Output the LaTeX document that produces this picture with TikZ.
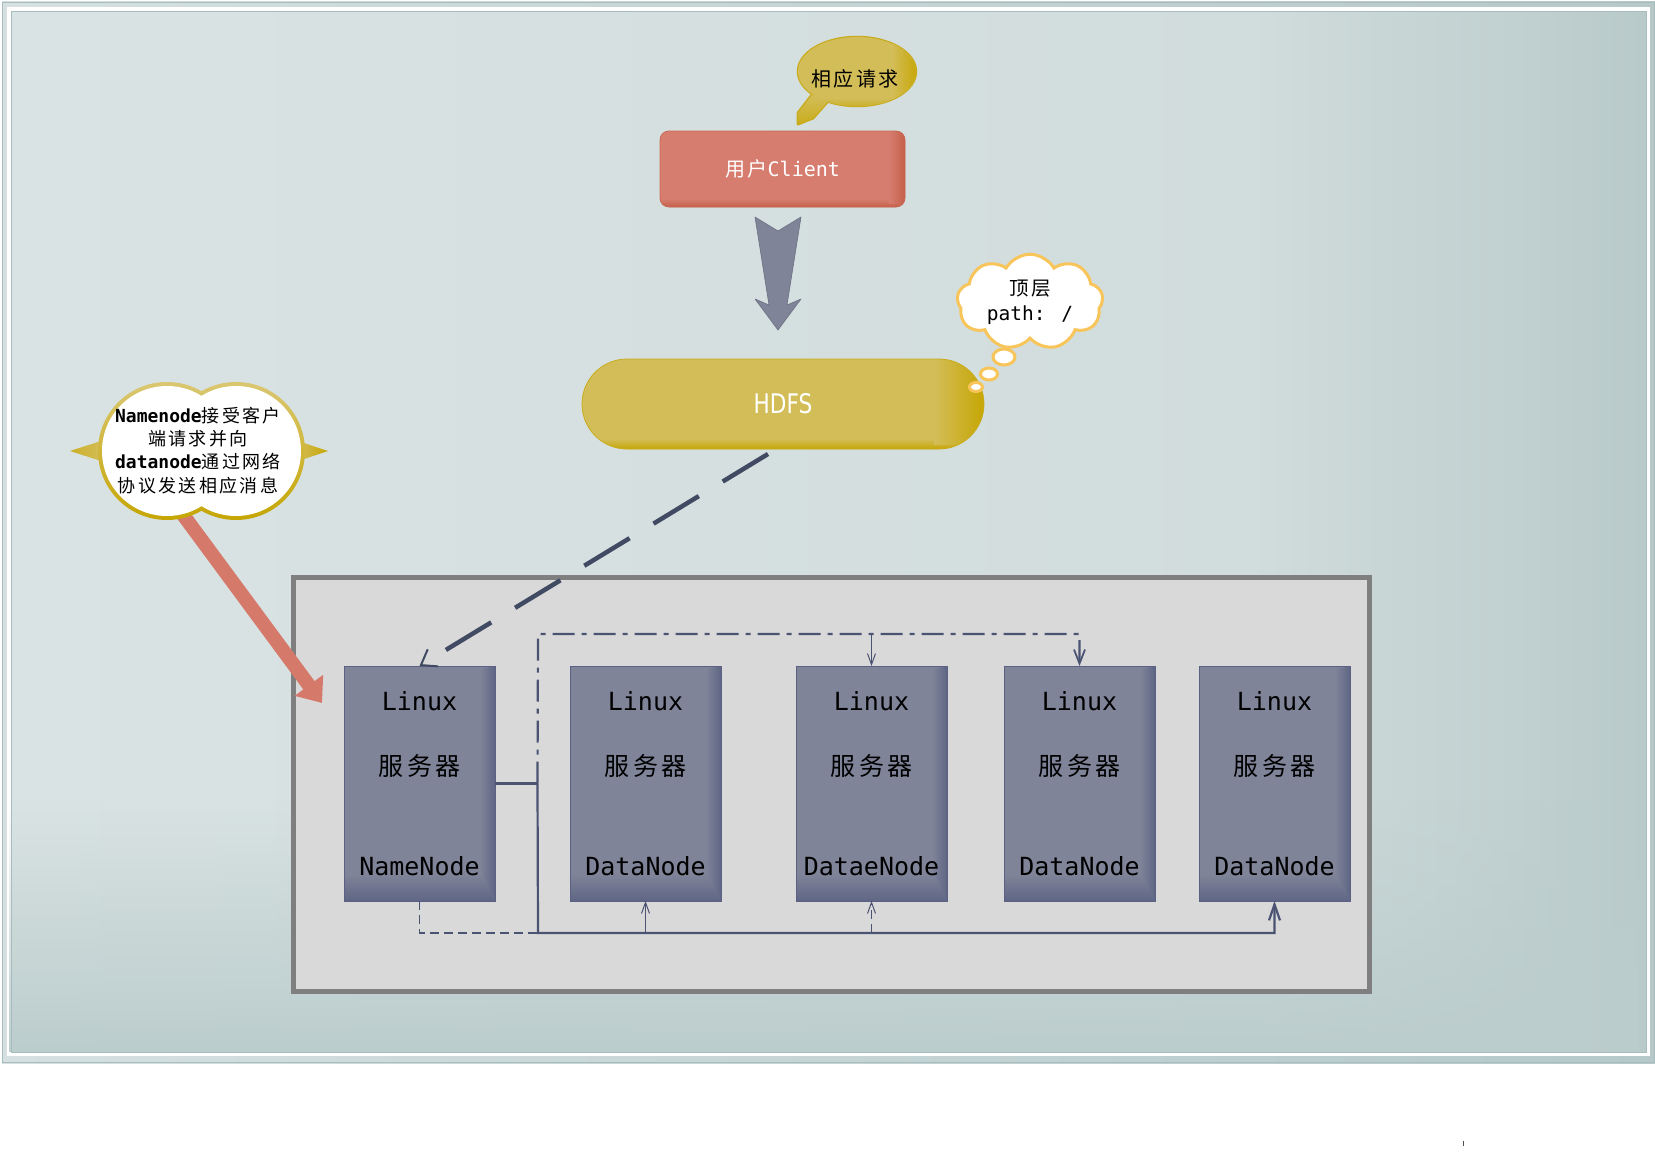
\documentclass[tikz,border=0pt]{standalone}
\usepackage{fontspec}
\usetikzlibrary{arrows.meta,calc,shapes.symbols,shapes.geometric,fadings}
\newfontfamily\cjk{Noto Sans CJK SC}
\newfontfamily\cjks[LetterSpace=13]{Noto Sans CJK SC}
\newfontfamily\mono{DejaVu Sans Mono}
\newfontfamily\narrowsans[FakeStretch=0.8]{DejaVu Sans}

\definecolor{bandL}{HTML}{D6E0E0}
\definecolor{bandR}{HTML}{B6C8C8}
\definecolor{frameLine}{HTML}{A8BDBD}
\definecolor{bgA}{HTML}{DAE3E3}
\definecolor{bgB}{HTML}{D1DCDC}
\definecolor{bgC}{HTML}{B9CACA}
\definecolor{bgD}{HTML}{BCCDCD}
\definecolor{contFill}{HTML}{D9D9D9}
\definecolor{contLine}{HTML}{7F7F7F}
\definecolor{srvBase}{HTML}{7F8499}
\definecolor{srvDark}{HTML}{5F6684}
\definecolor{srvLine}{HTML}{5A6184}
\definecolor{wire}{HTML}{4B5373}
\definecolor{hdfsWire}{HTML}{414A63}
\definecolor{clientBase}{HTML}{D67D6F}
\definecolor{clientDark}{HTML}{C55F4A}
\definecolor{gold}{HTML}{D3BD58}
\definecolor{goldB}{HTML}{C6A604}
\definecolor{goldEdge}{HTML}{C9AC1E}
\definecolor{cloudLine}{HTML}{F8C55A}
\definecolor{redA}{HTML}{D57A6B}
\definecolor{bigArrow}{HTML}{7F8499}

\begin{document}
\begin{tikzpicture}[x=1pt,y=-1pt,
  container/.style={rectangle, fill=contFill, draw=contLine, line width=5pt,
    minimum width=1076pt, minimum height=414pt, inner sep=0pt},
  srv/.style={rectangle, fill=srvBase, minimum width=151pt, minimum height=235pt,
    inner sep=0pt, outer sep=0pt},
  srvtxt/.style={anchor=base, inner sep=0pt, font=\fontsize{25}{30}\selectfont\mono},
  clientbox/.style={rectangle, rounded corners=9pt, fill=clientBase,
    minimum width=245pt, minimum height=76pt, inner sep=0pt, outer sep=0pt},
  clienttxt/.style={inner sep=0pt, text=white, font=\fontsize{20}{24}\selectfont\mono},
  hdfsbox/.style={rectangle, rounded corners=45pt, fill=gold,
    minimum width=402pt, minimum height=90pt, inner sep=0pt, outer sep=0pt},
  hdfstxt/.style={inner sep=0pt, text=white, font=\fontsize{27}{32}\selectfont\narrowsans},
  bubble/.style={ellipse, draw=cloudLine, line width=3pt, fill=white, inner sep=0pt},
  cloudnode/.style={cloud, cloud puffs=9, cloud puff arc=120, aspect=1.6,
    draw=cloudLine, line width=3pt, fill=white, inner sep=0pt,
    minimum width=146pt, minimum height=92pt, align=center,
    font=\fontsize{19.5}{25}\selectfont},
  notetxt/.style={align=center, inner sep=0pt, font=\fontsize{18}{23.3}\selectfont},
  reqtxt/.style={inner sep=0pt, font=\fontsize{20}{24}\selectfont\cjks},
  bus/.style={draw=wire, line width=2.2pt},
  busthin/.style={draw=wire, line width=1pt},
  smalltip/.style={-{Straight Barb[length=11pt,width=8pt,line width=1pt]}},
  midtip/.style={-{Straight Barb[length=14pt,width=11pt,line width=1.8pt]}},
  bigtip/.style={-{Straight Barb[length=16pt,width=11pt,line width=2.2pt]}},
  dashdot/.style={dash pattern=on 22pt off 7pt on 5pt off 7pt},
  shortdash/.style={dash pattern=on 9pt off 5pt},
  hdfslink/.style={draw=hdfsWire, line width=4.5pt, dash pattern=on 53pt off 28pt,
    -{Straight Barb[length=14pt,width=20pt,line width=2pt]}},
  redarrow/.style={draw=redA, line width=14pt, -{Triangle[length=22pt,width=34pt]}},
]
\useasboundingbox (0,0) rectangle (1655,1172);
\fill[white] (0,0) rectangle (1655,1172);

% ---- framed backdrop ----
\shade[left color=bandL, right color=bandR] (2,2) rectangle (1655,1063);
\draw[frameLine, line width=1pt] (2.5,2.5) rectangle (1654.5,1062.5);
\fill[white] (7,7) rectangle (1650,1056);
\shade[left color=bgA, right color=bgB] (11.5,11.5) rectangle (1251,1052);
\shade[left color=bgB, right color=bgC] (1250,11.5) rectangle (1646,1052);
\fill[bgD, path fading=north] (11.5,800) rectangle (1646,1052);
\draw[frameLine, line width=1pt] (11.5,11.5) rectangle (1646,1052);

% ---- cluster container and servers ----
\node[container] (cont) at (831.5,784.5) {};

\node[srv] (nn)  at (419.5,783.5) {};
\node[srv] (dn1) at (645.5,783.5) {};
\node[srv] (dn2) at (871.5,783.5) {};
\node[srv] (dn3) at (1079.5,783.5) {};
\node[srv] (dn4) at (1274.5,783.5) {};

\foreach \b/\r in {nn/NameNode,dn1/DataNode,dn2/DataeNode,dn3/DataNode,dn4/DataNode}{
  % bevelled right and bottom edges
  \shade[left color=srvBase, right color=srvDark]
    ($(\b.north east)+(-15,3)$) -- (\b.north east) -- (\b.south east)
    -- ($(\b.south east)+(-15,-27)$) -- cycle;
  \shade[top color=srvBase, bottom color=srvDark]
    ($(\b.south west)+(0,-27)$) -- ($(\b.south east)+(-15,-27)$)
    -- (\b.south east) -- (\b.south west) -- cycle;
  \draw[srvLine, line width=0.8pt] (\b.north west) rectangle (\b.south east);
  \node[srvtxt] (\b-os)   at ($(\b.north)+(0,44)$)  {Linux};
  \node[srvtxt] (\b-hw)   at ($(\b.north)+(0,109)$) {\cjks 服务器};
  \node[srvtxt] (\b-role) at ($(\b.north)+(0,209)$) {\r};
}

% ---- wiring between servers ----
\coordinate (j1) at ($(nn.east)+(42.5,0)$);
\coordinate (jb) at (538,933);
\coordinate (jt) at (538,634);

\draw[bus] (nn.east) -- (j1);
\draw[bus, bigtip] (j1) -- (jb) -| (dn4.south);
\draw[busthin, smalltip] (jb -| dn1.south) -- (dn1.south);
\draw[busthin, shortdash, smalltip] (jb -| dn2.south) -- (dn2.south);
\draw[draw=wire, line width=1.4pt, shortdash] (nn.south) |- (jb);

\draw[bus, dashdot, midtip] (j1) -- (jt) -| (dn3.north);
\draw[busthin, smalltip] (jt -| dn2.north) -- (dn2.north);

% ---- client box ----
\node[clientbox] (client) at (782.5,169) {};
\begin{scope}
  \clip[rounded corners=9pt] (client.north west) rectangle (client.south east);
  \shade[top color=clientBase, bottom color=clientDark]
    ($(client.south west)+(0,-8)$) rectangle (client.south east);
  \shade[left color=clientBase, right color=clientDark]
    ($(client.north east)+(-16,0)$) rectangle ($(client.south east)+(0,-4)$);
\end{scope}
\draw[clientDark!70!clientBase, line width=0.8pt, rounded corners=9pt]
  (client.north west) rectangle (client.south east);
\node[clienttxt] (clientlabel) at (client.center) {{\cjks 用户}Client};

% ---- request bubble ----
\draw[goldEdge, line width=3pt, line join=round]
  (812,95) -- (798,113) -- (798,124) -- (813,118) -- (828,101) -- cycle;
\draw[goldEdge, line width=2.5pt] (857,71.5) ellipse[x radius=59, y radius=34.5];
\shade[top color=gold, bottom color=goldB!70!gold]
  (812,95) -- (798,113) -- (798,124) -- (813,118) -- (828,101) -- cycle;
\fill[gold] (857,71.5) ellipse[x radius=59, y radius=34.5];
\begin{scope}
  \clip (857,71.5) ellipse[x radius=59, y radius=34.5];
  \shade[left color=gold, right color=goldB] (892,30) rectangle (918,110);
  \shade[top color=gold, bottom color=goldB!80!gold] (790,98) rectangle (918,110);
\end{scope}
\node[reqtxt] (req) at (855,78.4) {相应请求};

% ---- block arrow from client down to HDFS ----
\coordinate (da) at ($(client.south)+(-4.5,10)$);
\begin{scope}[shift={(da)}]
  \fill[bigArrow, draw=bigArrow!85!black, line width=0.6pt, line join=round]
    (-23,0) -- (0,14) -- (23,0) -- (9,88) -- (23,82) -- (0,113)
    -- (-23,82) -- (-9,88) -- cycle;
\end{scope}

% ---- HDFS and its link to the NameNode ----
\node[hdfsbox] (hdfs) at (783,404) {};
\begin{scope}
  \clip[rounded corners=45pt] (hdfs.north west) rectangle (hdfs.south east);
  \shade[top color=gold, bottom color=goldB]
    ($(hdfs.south west)+(0,-10)$) rectangle (hdfs.south east);
  \shade[left color=gold, right color=goldB]
    ($(hdfs.north east)+(-50,0)$) rectangle ($(hdfs.south east)+(0,-5)$);
\end{scope}
\draw[goldEdge, line width=0.8pt, rounded corners=45pt]
  (hdfs.north west) rectangle (hdfs.south east);
\node[hdfstxt] (hdfslabel) at (hdfs.center) {HDFS};
\draw[hdfslink] ($(hdfs.south)+(-15,5)$) -- (nn.north);

% ---- thought cloud ----
\node[bubble, minimum width=22pt, minimum height=16pt] (tb1) at (1004,357) {};
\node[bubble, minimum width=17pt, minimum height=12pt] (tb2) at (989,374) {};
\node[bubble, minimum width=13pt, minimum height=9pt]  (tb3) at (976,387) {};
\node[cloudnode] (top) at (1030,302) {{\cjks 顶层}\\{\mono path: /}};

% ---- NameNode note with pointer ----
\coordinate (redTail) at (181,512);
\coordinate (redTip) at (322,703);
\draw[redarrow] (redTail) -- (redTip);

\coordinate (noteL) at (167,451);
\coordinate (noteR) at (236,451);
\shade[left color=goldB!60!gold, right color=gold] (101,441) -- (70,451) -- (101,461) -- cycle;
\shade[left color=gold, right color=goldB] (298,441) -- (328,451) -- (298,461) -- cycle;
\shade[top color=gold!85!white, bottom color=goldB] (noteL) circle[radius=69] (noteR) circle[radius=69];
\fill[white] (noteL) circle[radius=65] (noteR) circle[radius=65];
\node[notetxt] (note) at (198,450.4) {%
  {\mono\bfseries Namenode}{\cjks 接受客户}\\
  {\cjks 端请求并向}\\
  {\mono\bfseries datanode}{\cjks 通过网络}\\
  {\cjks 协议发送相应消息}};

% ---- stray mark below the frame ----
\draw[black!70, line width=1pt] (1463,1141) -- (1463,1146);
\end{tikzpicture}
\end{document}
